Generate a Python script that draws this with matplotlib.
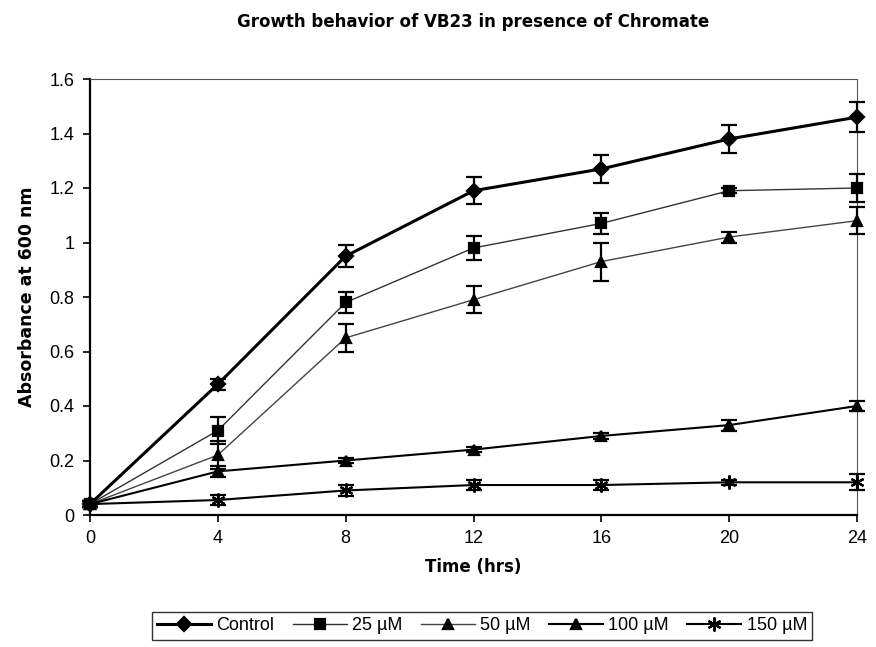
import matplotlib
matplotlib.use("Agg")
import matplotlib.pyplot as plt
from matplotlib.lines import Line2D

plt.rcParams['font.family'] = ['Liberation Sans', 'DejaVu Sans']

time_hrs = [0, 4, 8, 12, 16, 20, 24]
series_labels = ["Control", "25 µM", "50 µM", "100 µM", "150 µM"]

control = [0.04, 0.48, 0.95, 1.19, 1.27, 1.38, 1.46]
control_err = [0.01, 0.02, 0.04, 0.05, 0.05, 0.05, 0.055]
uM25 = [0.04, 0.31, 0.78, 0.98, 1.07, 1.19, 1.20]
uM25_err = [0.01, 0.05, 0.04, 0.045, 0.04, 0.01, 0.05]
uM50 = [0.04, 0.22, 0.65, 0.79, 0.93, 1.02, 1.08]
uM50_err = [0.01, 0.05, 0.05, 0.05, 0.07, 0.02, 0.05]
uM100 = [0.04, 0.16, 0.20, 0.24, 0.29, 0.33, 0.40]
uM100_err = [0.01, 0.02, 0.01, 0.01, 0.01, 0.02, 0.02]
uM150 = [0.04, 0.055, 0.09, 0.11, 0.11, 0.12, 0.12]
uM150_err = [0.01, 0.02, 0.02, 0.02, 0.02, 0.01, 0.03]

y_ticks = [0, 0.2, 0.4, 0.6, 0.8, 1.0, 1.2, 1.4, 1.6]
y_ticklabels = ["0", "0.2", "0.4", "0.6", "0.8", "1", "1.2", "1.4", "1.6"]
x_ticks = [0, 4, 8, 12, 16, 20, 24]

fig = plt.figure(figsize=(8.76, 6.47), dpi=100)
ax = fig.add_axes([90/876, 1 - 515/647, (857-90)/876, (515-79)/647])

styles = [
    (control, control_err, 'D', 2.2, 'black', 7.5),
    (uM25, uM25_err, 's', 1.0, '#333333', 7),
    (uM50, uM50_err, '^', 1.0, '#444444', 7.5),
    (uM100, uM100_err, '^', 1.5, 'black', 7.5),
    (uM150, uM150_err, (6, 2, 0), 1.5, 'black', 10),
]

handles = []
for (vals, err, mk, lw, col, ms), lab in zip(styles, series_labels):
    ax.errorbar(time_hrs, vals, yerr=err, color=col, lw=lw, marker=mk,
                markersize=ms, markerfacecolor='black', markeredgecolor='black',
                markeredgewidth=1.6, ecolor='black', elinewidth=1.6,
                capsize=6, capthick=1.6, label=lab, clip_on=False, zorder=3)
    handles.append(Line2D([], [], color=col, lw=lw, marker=mk, markersize=ms,
                          markerfacecolor='black', markeredgecolor='black',
                          markeredgewidth=1.6))

ax.set_xlim(0, 24)
ax.set_ylim(0, 1.6)
ax.set_xticks(x_ticks)
ax.set_yticks(y_ticks)
ax.set_yticklabels(y_ticklabels)
ax.tick_params(axis='both', direction='out', length=5, width=1.2, labelsize=13, pad=6)

for side in ['left', 'bottom']:
    ax.spines[side].set_linewidth(1.6)
    ax.spines[side].set_color('black')
for side in ['top', 'right']:
    ax.spines[side].set_linewidth(0.8)
    ax.spines[side].set_color('#555555')
    ax.spines[side].set_linestyle((0, (2, 1)))

ax.set_xlabel("Time (hrs)", fontsize=12, fontweight='bold', labelpad=8,
              family=['DejaVu Sans'])
ax.set_ylabel("Absorbance at 600 nm", fontsize=12.5, fontweight='bold', labelpad=10,
              family=['DejaVu Sans'])
fig.text(473/876, 1 - 22/647, "Growth behavior of VB23 in presence of Chromate",
         ha='center', va='center', fontsize=12, fontweight='bold', family=['DejaVu Sans'])

leg = fig.legend(handles, series_labels, loc='center', bbox_to_anchor=(482/876, 1 - 626/647),
                 ncol=5, fontsize=13, frameon=True, fancybox=False, handlelength=3.0,
                 columnspacing=1.0, handletextpad=0.3, borderpad=0.3, edgecolor='black')
leg.get_frame().set_linewidth(1.0)

fig.savefig("out.png", dpi=100, facecolor='white')
